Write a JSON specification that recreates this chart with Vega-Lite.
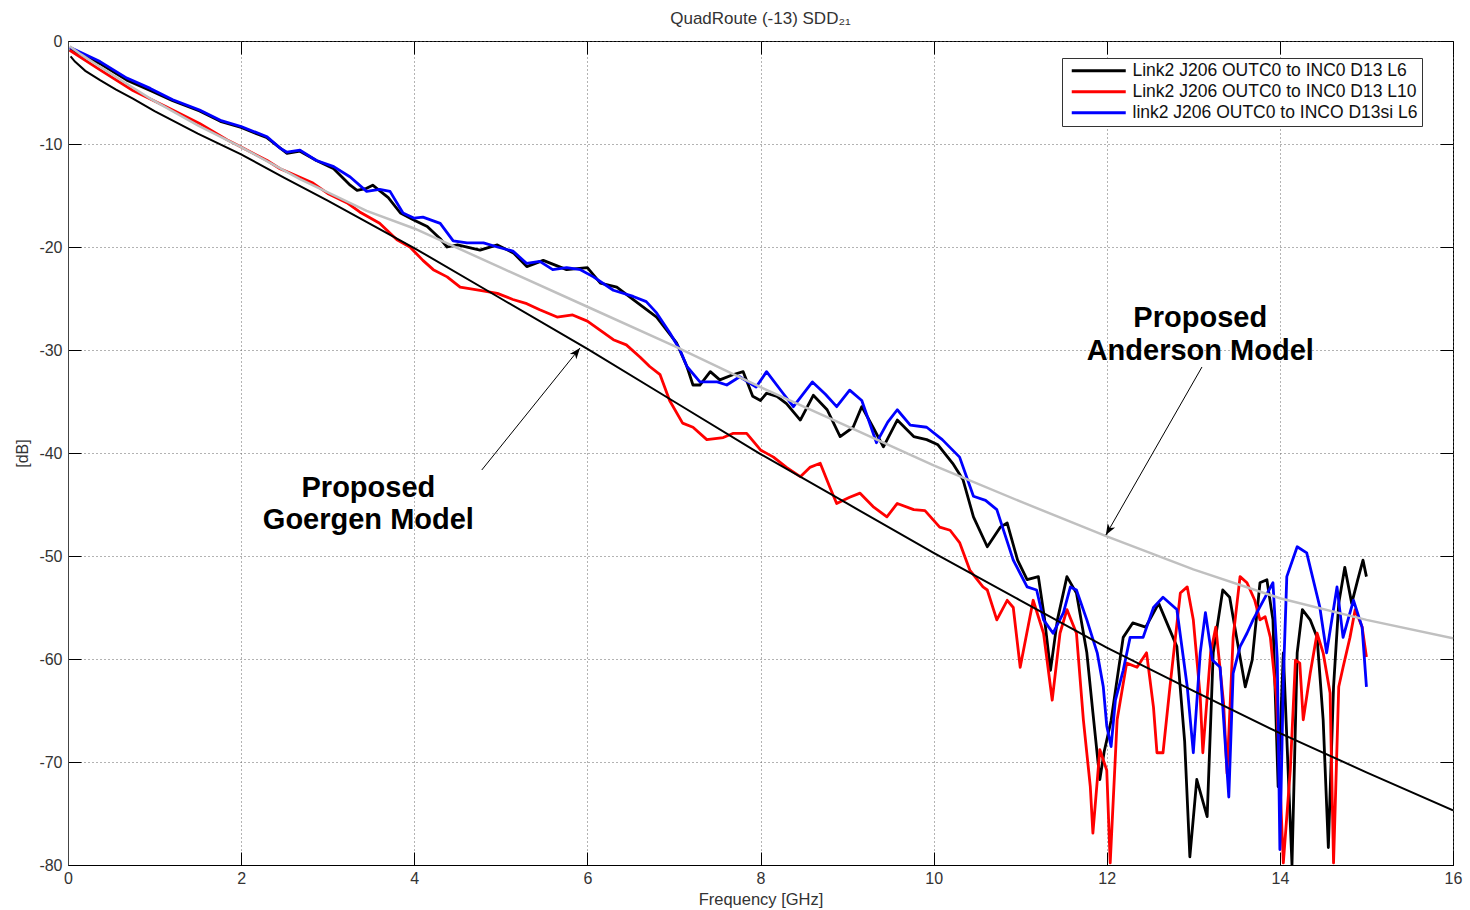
{
  "$schema": "https://vega.github.io/schema/vega-lite/v6.json",
  "width": 1385,
  "height": 824,
  "autosize": {"type": "none"},
  "padding": {"left": 68, "top": 41, "right": 17, "bottom": 45},
  "background": "white",
  "title": {"text": "QuadRoute (-13) SDD₂₁", "fontSize": 17, "font": "Liberation Sans", "fontWeight": "normal", "color": "#333", "baseline": "alphabetic", "offset": 12, "dy": 20},
  "config": {
    "font": "Liberation Sans",
    "view": {"stroke": "#000", "strokeWidth": 1}
  },
  "datasets": {
    "meas": [
      {"s": "Link2 J206 OUTC0 to INC0 D13 L6", "f": 0.02, "db": -0.8},
      {"s": "Link2 J206 OUTC0 to INC0 D13 L6", "f": 0.37, "db": -2.2},
      {"s": "Link2 J206 OUTC0 to INC0 D13 L6", "f": 0.68, "db": -3.8},
      {"s": "Link2 J206 OUTC0 to INC0 D13 L6", "f": 0.95, "db": -4.8},
      {"s": "Link2 J206 OUTC0 to INC0 D13 L6", "f": 1.21, "db": -5.8},
      {"s": "Link2 J206 OUTC0 to INC0 D13 L6", "f": 1.52, "db": -6.8},
      {"s": "Link2 J206 OUTC0 to INC0 D13 L6", "f": 1.76, "db": -7.8},
      {"s": "Link2 J206 OUTC0 to INC0 D13 L6", "f": 2.0, "db": -8.4},
      {"s": "Link2 J206 OUTC0 to INC0 D13 L6", "f": 2.3, "db": -9.4},
      {"s": "Link2 J206 OUTC0 to INC0 D13 L6", "f": 2.53, "db": -10.9},
      {"s": "Link2 J206 OUTC0 to INC0 D13 L6", "f": 2.68, "db": -10.7},
      {"s": "Link2 J206 OUTC0 to INC0 D13 L6", "f": 2.87, "db": -11.6},
      {"s": "Link2 J206 OUTC0 to INC0 D13 L6", "f": 3.07, "db": -12.4},
      {"s": "Link2 J206 OUTC0 to INC0 D13 L6", "f": 3.2, "db": -13.5},
      {"s": "Link2 J206 OUTC0 to INC0 D13 L6", "f": 3.26, "db": -14.0},
      {"s": "Link2 J206 OUTC0 to INC0 D13 L6", "f": 3.34, "db": -14.5},
      {"s": "Link2 J206 OUTC0 to INC0 D13 L6", "f": 3.45, "db": -14.3},
      {"s": "Link2 J206 OUTC0 to INC0 D13 L6", "f": 3.52, "db": -14.0},
      {"s": "Link2 J206 OUTC0 to INC0 D13 L6", "f": 3.7, "db": -15.2},
      {"s": "Link2 J206 OUTC0 to INC0 D13 L6", "f": 3.84, "db": -16.7},
      {"s": "Link2 J206 OUTC0 to INC0 D13 L6", "f": 4.0, "db": -17.4},
      {"s": "Link2 J206 OUTC0 to INC0 D13 L6", "f": 4.15, "db": -18.0},
      {"s": "Link2 J206 OUTC0 to INC0 D13 L6", "f": 4.3, "db": -19.2},
      {"s": "Link2 J206 OUTC0 to INC0 D13 L6", "f": 4.38, "db": -20.0},
      {"s": "Link2 J206 OUTC0 to INC0 D13 L6", "f": 4.5, "db": -19.8},
      {"s": "Link2 J206 OUTC0 to INC0 D13 L6", "f": 4.76, "db": -20.3},
      {"s": "Link2 J206 OUTC0 to INC0 D13 L6", "f": 4.96, "db": -19.8},
      {"s": "Link2 J206 OUTC0 to INC0 D13 L6", "f": 5.15, "db": -20.6},
      {"s": "Link2 J206 OUTC0 to INC0 D13 L6", "f": 5.3, "db": -21.9},
      {"s": "Link2 J206 OUTC0 to INC0 D13 L6", "f": 5.49, "db": -21.3},
      {"s": "Link2 J206 OUTC0 to INC0 D13 L6", "f": 5.76, "db": -22.2},
      {"s": "Link2 J206 OUTC0 to INC0 D13 L6", "f": 6.0, "db": -22.0},
      {"s": "Link2 J206 OUTC0 to INC0 D13 L6", "f": 6.15, "db": -23.5},
      {"s": "Link2 J206 OUTC0 to INC0 D13 L6", "f": 6.34, "db": -23.9},
      {"s": "Link2 J206 OUTC0 to INC0 D13 L6", "f": 6.53, "db": -25.1},
      {"s": "Link2 J206 OUTC0 to INC0 D13 L6", "f": 6.8, "db": -26.8},
      {"s": "Link2 J206 OUTC0 to INC0 D13 L6", "f": 7.03, "db": -29.3},
      {"s": "Link2 J206 OUTC0 to INC0 D13 L6", "f": 7.15, "db": -31.6},
      {"s": "Link2 J206 OUTC0 to INC0 D13 L6", "f": 7.22, "db": -33.4},
      {"s": "Link2 J206 OUTC0 to INC0 D13 L6", "f": 7.3, "db": -33.4},
      {"s": "Link2 J206 OUTC0 to INC0 D13 L6", "f": 7.42, "db": -32.1},
      {"s": "Link2 J206 OUTC0 to INC0 D13 L6", "f": 7.53, "db": -32.9},
      {"s": "Link2 J206 OUTC0 to INC0 D13 L6", "f": 7.68, "db": -32.4},
      {"s": "Link2 J206 OUTC0 to INC0 D13 L6", "f": 7.8, "db": -32.1},
      {"s": "Link2 J206 OUTC0 to INC0 D13 L6", "f": 7.91, "db": -34.5},
      {"s": "Link2 J206 OUTC0 to INC0 D13 L6", "f": 8.0, "db": -34.9},
      {"s": "Link2 J206 OUTC0 to INC0 D13 L6", "f": 8.07, "db": -34.2},
      {"s": "Link2 J206 OUTC0 to INC0 D13 L6", "f": 8.19, "db": -34.5},
      {"s": "Link2 J206 OUTC0 to INC0 D13 L6", "f": 8.3, "db": -35.2},
      {"s": "Link2 J206 OUTC0 to INC0 D13 L6", "f": 8.46, "db": -36.8},
      {"s": "Link2 J206 OUTC0 to INC0 D13 L6", "f": 8.61, "db": -34.4},
      {"s": "Link2 J206 OUTC0 to INC0 D13 L6", "f": 8.77, "db": -35.8},
      {"s": "Link2 J206 OUTC0 to INC0 D13 L6", "f": 8.92, "db": -38.4},
      {"s": "Link2 J206 OUTC0 to INC0 D13 L6", "f": 9.07, "db": -37.5},
      {"s": "Link2 J206 OUTC0 to INC0 D13 L6", "f": 9.17, "db": -35.5},
      {"s": "Link2 J206 OUTC0 to INC0 D13 L6", "f": 9.3, "db": -37.5},
      {"s": "Link2 J206 OUTC0 to INC0 D13 L6", "f": 9.42, "db": -39.4},
      {"s": "Link2 J206 OUTC0 to INC0 D13 L6", "f": 9.58, "db": -36.8},
      {"s": "Link2 J206 OUTC0 to INC0 D13 L6", "f": 9.77, "db": -38.4},
      {"s": "Link2 J206 OUTC0 to INC0 D13 L6", "f": 9.92, "db": -38.7},
      {"s": "Link2 J206 OUTC0 to INC0 D13 L6", "f": 10.05, "db": -39.2},
      {"s": "Link2 J206 OUTC0 to INC0 D13 L6", "f": 10.22, "db": -41.0},
      {"s": "Link2 J206 OUTC0 to INC0 D13 L6", "f": 10.34, "db": -42.6},
      {"s": "Link2 J206 OUTC0 to INC0 D13 L6", "f": 10.46, "db": -46.2},
      {"s": "Link2 J206 OUTC0 to INC0 D13 L6", "f": 10.62, "db": -49.1},
      {"s": "Link2 J206 OUTC0 to INC0 D13 L6", "f": 10.77, "db": -47.2},
      {"s": "Link2 J206 OUTC0 to INC0 D13 L6", "f": 10.85, "db": -46.8},
      {"s": "Link2 J206 OUTC0 to INC0 D13 L6", "f": 10.97, "db": -50.4},
      {"s": "Link2 J206 OUTC0 to INC0 D13 L6", "f": 11.08, "db": -52.3},
      {"s": "Link2 J206 OUTC0 to INC0 D13 L6", "f": 11.21, "db": -52.0},
      {"s": "Link2 J206 OUTC0 to INC0 D13 L6", "f": 11.28, "db": -56.0},
      {"s": "Link2 J206 OUTC0 to INC0 D13 L6", "f": 11.35, "db": -61.1},
      {"s": "Link2 J206 OUTC0 to INC0 D13 L6", "f": 11.43, "db": -56.2},
      {"s": "Link2 J206 OUTC0 to INC0 D13 L6", "f": 11.54, "db": -52.0},
      {"s": "Link2 J206 OUTC0 to INC0 D13 L6", "f": 11.65, "db": -53.6},
      {"s": "Link2 J206 OUTC0 to INC0 D13 L6", "f": 11.77, "db": -59.4},
      {"s": "Link2 J206 OUTC0 to INC0 D13 L6", "f": 11.84, "db": -65.2},
      {"s": "Link2 J206 OUTC0 to INC0 D13 L6", "f": 11.92, "db": -71.7},
      {"s": "Link2 J206 OUTC0 to INC0 D13 L6", "f": 11.97, "db": -69.0},
      {"s": "Link2 J206 OUTC0 to INC0 D13 L6", "f": 12.05, "db": -66.0},
      {"s": "Link2 J206 OUTC0 to INC0 D13 L6", "f": 12.19, "db": -57.9},
      {"s": "Link2 J206 OUTC0 to INC0 D13 L6", "f": 12.3, "db": -56.5},
      {"s": "Link2 J206 OUTC0 to INC0 D13 L6", "f": 12.45, "db": -56.9},
      {"s": "Link2 J206 OUTC0 to INC0 D13 L6", "f": 12.6, "db": -54.6},
      {"s": "Link2 J206 OUTC0 to INC0 D13 L6", "f": 12.81, "db": -58.8},
      {"s": "Link2 J206 OUTC0 to INC0 D13 L6", "f": 12.9, "db": -68.0},
      {"s": "Link2 J206 OUTC0 to INC0 D13 L6", "f": 12.96, "db": -79.2},
      {"s": "Link2 J206 OUTC0 to INC0 D13 L6", "f": 13.04, "db": -71.7},
      {"s": "Link2 J206 OUTC0 to INC0 D13 L6", "f": 13.16, "db": -75.3},
      {"s": "Link2 J206 OUTC0 to INC0 D13 L6", "f": 13.23, "db": -59.4},
      {"s": "Link2 J206 OUTC0 to INC0 D13 L6", "f": 13.34, "db": -53.3},
      {"s": "Link2 J206 OUTC0 to INC0 D13 L6", "f": 13.42, "db": -54.0},
      {"s": "Link2 J206 OUTC0 to INC0 D13 L6", "f": 13.5, "db": -57.9},
      {"s": "Link2 J206 OUTC0 to INC0 D13 L6", "f": 13.6, "db": -62.7},
      {"s": "Link2 J206 OUTC0 to INC0 D13 L6", "f": 13.68, "db": -60.1},
      {"s": "Link2 J206 OUTC0 to INC0 D13 L6", "f": 13.77, "db": -52.6},
      {"s": "Link2 J206 OUTC0 to INC0 D13 L6", "f": 13.85, "db": -52.3},
      {"s": "Link2 J206 OUTC0 to INC0 D13 L6", "f": 13.92, "db": -56.2},
      {"s": "Link2 J206 OUTC0 to INC0 D13 L6", "f": 13.98, "db": -72.4},
      {"s": "Link2 J206 OUTC0 to INC0 D13 L6", "f": 14.04, "db": -59.4},
      {"s": "Link2 J206 OUTC0 to INC0 D13 L6", "f": 14.14, "db": -80.0},
      {"s": "Link2 J206 OUTC0 to INC0 D13 L6", "f": 14.2, "db": -59.4},
      {"s": "Link2 J206 OUTC0 to INC0 D13 L6", "f": 14.26, "db": -55.2},
      {"s": "Link2 J206 OUTC0 to INC0 D13 L6", "f": 14.35, "db": -56.2},
      {"s": "Link2 J206 OUTC0 to INC0 D13 L6", "f": 14.43, "db": -57.9},
      {"s": "Link2 J206 OUTC0 to INC0 D13 L6", "f": 14.5, "db": -65.9},
      {"s": "Link2 J206 OUTC0 to INC0 D13 L6", "f": 14.56, "db": -78.3},
      {"s": "Link2 J206 OUTC0 to INC0 D13 L6", "f": 14.62, "db": -62.7},
      {"s": "Link2 J206 OUTC0 to INC0 D13 L6", "f": 14.68, "db": -54.6},
      {"s": "Link2 J206 OUTC0 to INC0 D13 L6", "f": 14.75, "db": -51.1},
      {"s": "Link2 J206 OUTC0 to INC0 D13 L6", "f": 14.83, "db": -54.6},
      {"s": "Link2 J206 OUTC0 to INC0 D13 L6", "f": 14.9, "db": -52.3},
      {"s": "Link2 J206 OUTC0 to INC0 D13 L6", "f": 14.96, "db": -50.4},
      {"s": "Link2 J206 OUTC0 to INC0 D13 L6", "f": 15.0, "db": -52.0},

      {"s": "Link2 J206 OUTC0 to INC0 D13 L10", "f": 0.02, "db": -0.9},
      {"s": "Link2 J206 OUTC0 to INC0 D13 L10", "f": 0.37, "db": -2.8},
      {"s": "Link2 J206 OUTC0 to INC0 D13 L10", "f": 0.75, "db": -4.8},
      {"s": "Link2 J206 OUTC0 to INC0 D13 L10", "f": 1.14, "db": -6.4},
      {"s": "Link2 J206 OUTC0 to INC0 D13 L10", "f": 1.52, "db": -8.0},
      {"s": "Link2 J206 OUTC0 to INC0 D13 L10", "f": 1.84, "db": -9.6},
      {"s": "Link2 J206 OUTC0 to INC0 D13 L10", "f": 2.0, "db": -10.3},
      {"s": "Link2 J206 OUTC0 to INC0 D13 L10", "f": 2.3, "db": -11.6},
      {"s": "Link2 J206 OUTC0 to INC0 D13 L10", "f": 2.45, "db": -12.4},
      {"s": "Link2 J206 OUTC0 to INC0 D13 L10", "f": 2.56, "db": -12.8},
      {"s": "Link2 J206 OUTC0 to INC0 D13 L10", "f": 2.83, "db": -13.8},
      {"s": "Link2 J206 OUTC0 to INC0 D13 L10", "f": 3.0, "db": -14.8},
      {"s": "Link2 J206 OUTC0 to INC0 D13 L10", "f": 3.22, "db": -15.7},
      {"s": "Link2 J206 OUTC0 to INC0 D13 L10", "f": 3.37, "db": -16.6},
      {"s": "Link2 J206 OUTC0 to INC0 D13 L10", "f": 3.6, "db": -17.7},
      {"s": "Link2 J206 OUTC0 to INC0 D13 L10", "f": 3.8, "db": -19.3},
      {"s": "Link2 J206 OUTC0 to INC0 D13 L10", "f": 3.95, "db": -20.0},
      {"s": "Link2 J206 OUTC0 to INC0 D13 L10", "f": 4.1, "db": -21.3},
      {"s": "Link2 J206 OUTC0 to INC0 D13 L10", "f": 4.22, "db": -22.2},
      {"s": "Link2 J206 OUTC0 to INC0 D13 L10", "f": 4.38, "db": -22.9},
      {"s": "Link2 J206 OUTC0 to INC0 D13 L10", "f": 4.53, "db": -23.9},
      {"s": "Link2 J206 OUTC0 to INC0 D13 L10", "f": 4.76, "db": -24.2},
      {"s": "Link2 J206 OUTC0 to INC0 D13 L10", "f": 4.96, "db": -24.5},
      {"s": "Link2 J206 OUTC0 to INC0 D13 L10", "f": 5.14, "db": -25.1},
      {"s": "Link2 J206 OUTC0 to INC0 D13 L10", "f": 5.3, "db": -25.5},
      {"s": "Link2 J206 OUTC0 to INC0 D13 L10", "f": 5.45, "db": -26.1},
      {"s": "Link2 J206 OUTC0 to INC0 D13 L10", "f": 5.65, "db": -26.8},
      {"s": "Link2 J206 OUTC0 to INC0 D13 L10", "f": 5.83, "db": -26.6},
      {"s": "Link2 J206 OUTC0 to INC0 D13 L10", "f": 6.0, "db": -27.2},
      {"s": "Link2 J206 OUTC0 to INC0 D13 L10", "f": 6.15, "db": -28.1},
      {"s": "Link2 J206 OUTC0 to INC0 D13 L10", "f": 6.3, "db": -29.0},
      {"s": "Link2 J206 OUTC0 to INC0 D13 L10", "f": 6.45, "db": -29.5},
      {"s": "Link2 J206 OUTC0 to INC0 D13 L10", "f": 6.61, "db": -30.7},
      {"s": "Link2 J206 OUTC0 to INC0 D13 L10", "f": 6.72, "db": -31.6},
      {"s": "Link2 J206 OUTC0 to INC0 D13 L10", "f": 6.84, "db": -32.4},
      {"s": "Link2 J206 OUTC0 to INC0 D13 L10", "f": 6.95, "db": -34.9},
      {"s": "Link2 J206 OUTC0 to INC0 D13 L10", "f": 7.1, "db": -37.1},
      {"s": "Link2 J206 OUTC0 to INC0 D13 L10", "f": 7.22, "db": -37.5},
      {"s": "Link2 J206 OUTC0 to INC0 D13 L10", "f": 7.38, "db": -38.7},
      {"s": "Link2 J206 OUTC0 to INC0 D13 L10", "f": 7.57, "db": -38.5},
      {"s": "Link2 J206 OUTC0 to INC0 D13 L10", "f": 7.68, "db": -38.1},
      {"s": "Link2 J206 OUTC0 to INC0 D13 L10", "f": 7.84, "db": -38.1},
      {"s": "Link2 J206 OUTC0 to INC0 D13 L10", "f": 8.0, "db": -39.7},
      {"s": "Link2 J206 OUTC0 to INC0 D13 L10", "f": 8.15, "db": -40.4},
      {"s": "Link2 J206 OUTC0 to INC0 D13 L10", "f": 8.3, "db": -41.4},
      {"s": "Link2 J206 OUTC0 to INC0 D13 L10", "f": 8.46, "db": -42.3},
      {"s": "Link2 J206 OUTC0 to INC0 D13 L10", "f": 8.57, "db": -41.4},
      {"s": "Link2 J206 OUTC0 to INC0 D13 L10", "f": 8.69, "db": -41.0},
      {"s": "Link2 J206 OUTC0 to INC0 D13 L10", "f": 8.8, "db": -43.3},
      {"s": "Link2 J206 OUTC0 to INC0 D13 L10", "f": 8.88, "db": -44.9},
      {"s": "Link2 J206 OUTC0 to INC0 D13 L10", "f": 9.03, "db": -44.3},
      {"s": "Link2 J206 OUTC0 to INC0 D13 L10", "f": 9.15, "db": -43.9},
      {"s": "Link2 J206 OUTC0 to INC0 D13 L10", "f": 9.3, "db": -45.2},
      {"s": "Link2 J206 OUTC0 to INC0 D13 L10", "f": 9.46, "db": -46.2},
      {"s": "Link2 J206 OUTC0 to INC0 D13 L10", "f": 9.58, "db": -44.9},
      {"s": "Link2 J206 OUTC0 to INC0 D13 L10", "f": 9.77, "db": -45.5},
      {"s": "Link2 J206 OUTC0 to INC0 D13 L10", "f": 9.9, "db": -45.6},
      {"s": "Link2 J206 OUTC0 to INC0 D13 L10", "f": 10.07, "db": -47.2},
      {"s": "Link2 J206 OUTC0 to INC0 D13 L10", "f": 10.19, "db": -47.5},
      {"s": "Link2 J206 OUTC0 to INC0 D13 L10", "f": 10.3, "db": -48.7},
      {"s": "Link2 J206 OUTC0 to INC0 D13 L10", "f": 10.42, "db": -51.4},
      {"s": "Link2 J206 OUTC0 to INC0 D13 L10", "f": 10.57, "db": -53.0},
      {"s": "Link2 J206 OUTC0 to INC0 D13 L10", "f": 10.62, "db": -53.3},
      {"s": "Link2 J206 OUTC0 to INC0 D13 L10", "f": 10.73, "db": -56.2},
      {"s": "Link2 J206 OUTC0 to INC0 D13 L10", "f": 10.85, "db": -54.3},
      {"s": "Link2 J206 OUTC0 to INC0 D13 L10", "f": 10.92, "db": -55.0},
      {"s": "Link2 J206 OUTC0 to INC0 D13 L10", "f": 11.0, "db": -60.8},
      {"s": "Link2 J206 OUTC0 to INC0 D13 L10", "f": 11.15, "db": -54.3},
      {"s": "Link2 J206 OUTC0 to INC0 D13 L10", "f": 11.27, "db": -57.5},
      {"s": "Link2 J206 OUTC0 to INC0 D13 L10", "f": 11.37, "db": -64.0},
      {"s": "Link2 J206 OUTC0 to INC0 D13 L10", "f": 11.46, "db": -57.5},
      {"s": "Link2 J206 OUTC0 to INC0 D13 L10", "f": 11.54, "db": -55.2},
      {"s": "Link2 J206 OUTC0 to INC0 D13 L10", "f": 11.65, "db": -57.5},
      {"s": "Link2 J206 OUTC0 to INC0 D13 L10", "f": 11.73, "db": -65.9},
      {"s": "Link2 J206 OUTC0 to INC0 D13 L10", "f": 11.81, "db": -72.4},
      {"s": "Link2 J206 OUTC0 to INC0 D13 L10", "f": 11.84, "db": -76.9},
      {"s": "Link2 J206 OUTC0 to INC0 D13 L10", "f": 11.92, "db": -68.8},
      {"s": "Link2 J206 OUTC0 to INC0 D13 L10", "f": 12.0, "db": -70.8},
      {"s": "Link2 J206 OUTC0 to INC0 D13 L10", "f": 12.04, "db": -79.8},
      {"s": "Link2 J206 OUTC0 to INC0 D13 L10", "f": 12.12, "db": -65.9},
      {"s": "Link2 J206 OUTC0 to INC0 D13 L10", "f": 12.23, "db": -60.4},
      {"s": "Link2 J206 OUTC0 to INC0 D13 L10", "f": 12.35, "db": -60.8},
      {"s": "Link2 J206 OUTC0 to INC0 D13 L10", "f": 12.46, "db": -59.4},
      {"s": "Link2 J206 OUTC0 to INC0 D13 L10", "f": 12.54, "db": -64.7},
      {"s": "Link2 J206 OUTC0 to INC0 D13 L10", "f": 12.58, "db": -69.1},
      {"s": "Link2 J206 OUTC0 to INC0 D13 L10", "f": 12.65, "db": -69.1},
      {"s": "Link2 J206 OUTC0 to INC0 D13 L10", "f": 12.73, "db": -62.7},
      {"s": "Link2 J206 OUTC0 to INC0 D13 L10", "f": 12.85, "db": -53.6},
      {"s": "Link2 J206 OUTC0 to INC0 D13 L10", "f": 12.93, "db": -53.0},
      {"s": "Link2 J206 OUTC0 to INC0 D13 L10", "f": 13.0, "db": -56.2},
      {"s": "Link2 J206 OUTC0 to INC0 D13 L10", "f": 13.08, "db": -63.7},
      {"s": "Link2 J206 OUTC0 to INC0 D13 L10", "f": 13.11, "db": -69.1},
      {"s": "Link2 J206 OUTC0 to INC0 D13 L10", "f": 13.2, "db": -59.4},
      {"s": "Link2 J206 OUTC0 to INC0 D13 L10", "f": 13.26, "db": -56.9},
      {"s": "Link2 J206 OUTC0 to INC0 D13 L10", "f": 13.35, "db": -64.3},
      {"s": "Link2 J206 OUTC0 to INC0 D13 L10", "f": 13.39, "db": -71.1},
      {"s": "Link2 J206 OUTC0 to INC0 D13 L10", "f": 13.46, "db": -57.9},
      {"s": "Link2 J206 OUTC0 to INC0 D13 L10", "f": 13.54, "db": -52.0},
      {"s": "Link2 J206 OUTC0 to INC0 D13 L10", "f": 13.62, "db": -52.6},
      {"s": "Link2 J206 OUTC0 to INC0 D13 L10", "f": 13.71, "db": -54.3},
      {"s": "Link2 J206 OUTC0 to INC0 D13 L10", "f": 13.77, "db": -56.2},
      {"s": "Link2 J206 OUTC0 to INC0 D13 L10", "f": 13.83, "db": -55.9},
      {"s": "Link2 J206 OUTC0 to INC0 D13 L10", "f": 13.89, "db": -57.9},
      {"s": "Link2 J206 OUTC0 to INC0 D13 L10", "f": 13.96, "db": -63.7},
      {"s": "Link2 J206 OUTC0 to INC0 D13 L10", "f": 14.04, "db": -79.8},
      {"s": "Link2 J206 OUTC0 to INC0 D13 L10", "f": 14.12, "db": -70.8},
      {"s": "Link2 J206 OUTC0 to INC0 D13 L10", "f": 14.18, "db": -60.1},
      {"s": "Link2 J206 OUTC0 to INC0 D13 L10", "f": 14.23, "db": -60.4},
      {"s": "Link2 J206 OUTC0 to INC0 D13 L10", "f": 14.27, "db": -65.9},
      {"s": "Link2 J206 OUTC0 to INC0 D13 L10", "f": 14.35, "db": -61.4},
      {"s": "Link2 J206 OUTC0 to INC0 D13 L10", "f": 14.43, "db": -57.5},
      {"s": "Link2 J206 OUTC0 to INC0 D13 L10", "f": 14.5, "db": -59.4},
      {"s": "Link2 J206 OUTC0 to INC0 D13 L10", "f": 14.58, "db": -63.3},
      {"s": "Link2 J206 OUTC0 to INC0 D13 L10", "f": 14.62, "db": -79.8},
      {"s": "Link2 J206 OUTC0 to INC0 D13 L10", "f": 14.68, "db": -62.7},
      {"s": "Link2 J206 OUTC0 to INC0 D13 L10", "f": 14.73, "db": -60.8},
      {"s": "Link2 J206 OUTC0 to INC0 D13 L10", "f": 14.81, "db": -57.9},
      {"s": "Link2 J206 OUTC0 to INC0 D13 L10", "f": 14.87, "db": -55.2},
      {"s": "Link2 J206 OUTC0 to INC0 D13 L10", "f": 14.95, "db": -56.9},
      {"s": "Link2 J206 OUTC0 to INC0 D13 L10", "f": 15.0, "db": -59.8},

      {"s": "link2 J206 OUTC0 to INCO D13si L6", "f": 0.02, "db": -0.6},
      {"s": "link2 J206 OUTC0 to INCO D13si L6", "f": 0.37, "db": -2.0},
      {"s": "link2 J206 OUTC0 to INCO D13si L6", "f": 0.68, "db": -3.6},
      {"s": "link2 J206 OUTC0 to INCO D13si L6", "f": 0.95, "db": -4.6},
      {"s": "link2 J206 OUTC0 to INCO D13si L6", "f": 1.21, "db": -5.7},
      {"s": "link2 J206 OUTC0 to INCO D13si L6", "f": 1.52, "db": -6.7},
      {"s": "link2 J206 OUTC0 to INCO D13si L6", "f": 1.76, "db": -7.7},
      {"s": "link2 J206 OUTC0 to INCO D13si L6", "f": 2.0, "db": -8.3},
      {"s": "link2 J206 OUTC0 to INCO D13si L6", "f": 2.3, "db": -9.3},
      {"s": "link2 J206 OUTC0 to INCO D13si L6", "f": 2.45, "db": -10.4},
      {"s": "link2 J206 OUTC0 to INCO D13si L6", "f": 2.53, "db": -10.8},
      {"s": "link2 J206 OUTC0 to INCO D13si L6", "f": 2.68, "db": -10.6},
      {"s": "link2 J206 OUTC0 to INCO D13si L6", "f": 2.87, "db": -11.6},
      {"s": "link2 J206 OUTC0 to INCO D13si L6", "f": 3.07, "db": -12.2},
      {"s": "link2 J206 OUTC0 to INCO D13si L6", "f": 3.26, "db": -13.2},
      {"s": "link2 J206 OUTC0 to INCO D13si L6", "f": 3.45, "db": -14.6},
      {"s": "link2 J206 OUTC0 to INCO D13si L6", "f": 3.6, "db": -14.4},
      {"s": "link2 J206 OUTC0 to INCO D13si L6", "f": 3.72, "db": -14.6},
      {"s": "link2 J206 OUTC0 to INCO D13si L6", "f": 3.87, "db": -16.7},
      {"s": "link2 J206 OUTC0 to INCO D13si L6", "f": 4.0, "db": -17.2},
      {"s": "link2 J206 OUTC0 to INCO D13si L6", "f": 4.1, "db": -17.1},
      {"s": "link2 J206 OUTC0 to INCO D13si L6", "f": 4.3, "db": -17.7},
      {"s": "link2 J206 OUTC0 to INCO D13si L6", "f": 4.45, "db": -19.4},
      {"s": "link2 J206 OUTC0 to INCO D13si L6", "f": 4.61, "db": -19.6},
      {"s": "link2 J206 OUTC0 to INCO D13si L6", "f": 4.8, "db": -19.6},
      {"s": "link2 J206 OUTC0 to INCO D13si L6", "f": 4.96, "db": -20.0},
      {"s": "link2 J206 OUTC0 to INCO D13si L6", "f": 5.14, "db": -20.4},
      {"s": "link2 J206 OUTC0 to INCO D13si L6", "f": 5.3, "db": -21.6},
      {"s": "link2 J206 OUTC0 to INCO D13si L6", "f": 5.45, "db": -21.4},
      {"s": "link2 J206 OUTC0 to INCO D13si L6", "f": 5.6, "db": -22.2},
      {"s": "link2 J206 OUTC0 to INCO D13si L6", "f": 5.76, "db": -22.0},
      {"s": "link2 J206 OUTC0 to INCO D13si L6", "f": 5.92, "db": -22.2},
      {"s": "link2 J206 OUTC0 to INCO D13si L6", "f": 6.07, "db": -22.9},
      {"s": "link2 J206 OUTC0 to INCO D13si L6", "f": 6.3, "db": -24.2},
      {"s": "link2 J206 OUTC0 to INCO D13si L6", "f": 6.53, "db": -24.8},
      {"s": "link2 J206 OUTC0 to INCO D13si L6", "f": 6.68, "db": -25.3},
      {"s": "link2 J206 OUTC0 to INCO D13si L6", "f": 6.8, "db": -26.4},
      {"s": "link2 J206 OUTC0 to INCO D13si L6", "f": 6.95, "db": -28.3},
      {"s": "link2 J206 OUTC0 to INCO D13si L6", "f": 7.07, "db": -30.0},
      {"s": "link2 J206 OUTC0 to INCO D13si L6", "f": 7.15, "db": -31.6},
      {"s": "link2 J206 OUTC0 to INCO D13si L6", "f": 7.3, "db": -33.1},
      {"s": "link2 J206 OUTC0 to INCO D13si L6", "f": 7.5, "db": -33.1},
      {"s": "link2 J206 OUTC0 to INCO D13si L6", "f": 7.61, "db": -33.4},
      {"s": "link2 J206 OUTC0 to INCO D13si L6", "f": 7.76, "db": -32.6},
      {"s": "link2 J206 OUTC0 to INCO D13si L6", "f": 7.95, "db": -33.6},
      {"s": "link2 J206 OUTC0 to INCO D13si L6", "f": 8.07, "db": -32.1},
      {"s": "link2 J206 OUTC0 to INCO D13si L6", "f": 8.26, "db": -34.2},
      {"s": "link2 J206 OUTC0 to INCO D13si L6", "f": 8.38, "db": -35.5},
      {"s": "link2 J206 OUTC0 to INCO D13si L6", "f": 8.6, "db": -33.1},
      {"s": "link2 J206 OUTC0 to INCO D13si L6", "f": 8.75, "db": -34.3},
      {"s": "link2 J206 OUTC0 to INCO D13si L6", "f": 8.88, "db": -35.5},
      {"s": "link2 J206 OUTC0 to INCO D13si L6", "f": 9.03, "db": -33.9},
      {"s": "link2 J206 OUTC0 to INCO D13si L6", "f": 9.17, "db": -34.9},
      {"s": "link2 J206 OUTC0 to INCO D13si L6", "f": 9.34, "db": -39.0},
      {"s": "link2 J206 OUTC0 to INCO D13si L6", "f": 9.47, "db": -37.0},
      {"s": "link2 J206 OUTC0 to INCO D13si L6", "f": 9.58, "db": -35.8},
      {"s": "link2 J206 OUTC0 to INCO D13si L6", "f": 9.73, "db": -37.3},
      {"s": "link2 J206 OUTC0 to INCO D13si L6", "f": 9.92, "db": -37.5},
      {"s": "link2 J206 OUTC0 to INCO D13si L6", "f": 10.1, "db": -38.7},
      {"s": "link2 J206 OUTC0 to INCO D13si L6", "f": 10.3, "db": -40.4},
      {"s": "link2 J206 OUTC0 to INCO D13si L6", "f": 10.46, "db": -44.2},
      {"s": "link2 J206 OUTC0 to INCO D13si L6", "f": 10.6, "db": -44.6},
      {"s": "link2 J206 OUTC0 to INCO D13si L6", "f": 10.73, "db": -45.5},
      {"s": "link2 J206 OUTC0 to INCO D13si L6", "f": 10.92, "db": -50.4},
      {"s": "link2 J206 OUTC0 to INCO D13si L6", "f": 11.08, "db": -53.0},
      {"s": "link2 J206 OUTC0 to INCO D13si L6", "f": 11.19, "db": -53.3},
      {"s": "link2 J206 OUTC0 to INCO D13si L6", "f": 11.27, "db": -56.2},
      {"s": "link2 J206 OUTC0 to INCO D13si L6", "f": 11.38, "db": -57.5},
      {"s": "link2 J206 OUTC0 to INCO D13si L6", "f": 11.5, "db": -55.5},
      {"s": "link2 J206 OUTC0 to INCO D13si L6", "f": 11.58, "db": -53.0},
      {"s": "link2 J206 OUTC0 to INCO D13si L6", "f": 11.65, "db": -53.3},
      {"s": "link2 J206 OUTC0 to INCO D13si L6", "f": 11.77, "db": -56.2},
      {"s": "link2 J206 OUTC0 to INCO D13si L6", "f": 11.89, "db": -59.4},
      {"s": "link2 J206 OUTC0 to INCO D13si L6", "f": 11.96, "db": -62.7},
      {"s": "link2 J206 OUTC0 to INCO D13si L6", "f": 12.0, "db": -66.5},
      {"s": "link2 J206 OUTC0 to INCO D13si L6", "f": 12.05, "db": -68.5},
      {"s": "link2 J206 OUTC0 to INCO D13si L6", "f": 12.1, "db": -64.0},
      {"s": "link2 J206 OUTC0 to INCO D13si L6", "f": 12.19, "db": -61.1},
      {"s": "link2 J206 OUTC0 to INCO D13si L6", "f": 12.27, "db": -57.9},
      {"s": "link2 J206 OUTC0 to INCO D13si L6", "f": 12.42, "db": -57.9},
      {"s": "link2 J206 OUTC0 to INCO D13si L6", "f": 12.54, "db": -55.0},
      {"s": "link2 J206 OUTC0 to INCO D13si L6", "f": 12.65, "db": -54.0},
      {"s": "link2 J206 OUTC0 to INCO D13si L6", "f": 12.81, "db": -55.2},
      {"s": "link2 J206 OUTC0 to INCO D13si L6", "f": 12.93, "db": -62.7},
      {"s": "link2 J206 OUTC0 to INCO D13si L6", "f": 13.0, "db": -69.1},
      {"s": "link2 J206 OUTC0 to INCO D13si L6", "f": 13.08, "db": -59.4},
      {"s": "link2 J206 OUTC0 to INCO D13si L6", "f": 13.14, "db": -55.5},
      {"s": "link2 J206 OUTC0 to INCO D13si L6", "f": 13.22, "db": -60.1},
      {"s": "link2 J206 OUTC0 to INCO D13si L6", "f": 13.31, "db": -60.8},
      {"s": "link2 J206 OUTC0 to INCO D13si L6", "f": 13.41, "db": -73.4},
      {"s": "link2 J206 OUTC0 to INCO D13si L6", "f": 13.46, "db": -61.4},
      {"s": "link2 J206 OUTC0 to INCO D13si L6", "f": 13.54, "db": -58.8},
      {"s": "link2 J206 OUTC0 to INCO D13si L6", "f": 13.62, "db": -57.5},
      {"s": "link2 J206 OUTC0 to INCO D13si L6", "f": 13.69, "db": -56.2},
      {"s": "link2 J206 OUTC0 to INCO D13si L6", "f": 13.81, "db": -54.3},
      {"s": "link2 J206 OUTC0 to INCO D13si L6", "f": 13.92, "db": -52.6},
      {"s": "link2 J206 OUTC0 to INCO D13si L6", "f": 13.97, "db": -60.0},
      {"s": "link2 J206 OUTC0 to INCO D13si L6", "f": 14.0, "db": -78.5},
      {"s": "link2 J206 OUTC0 to INCO D13si L6", "f": 14.04, "db": -62.0},
      {"s": "link2 J206 OUTC0 to INCO D13si L6", "f": 14.08, "db": -52.0},
      {"s": "link2 J206 OUTC0 to INCO D13si L6", "f": 14.2, "db": -49.1},
      {"s": "link2 J206 OUTC0 to INCO D13si L6", "f": 14.31, "db": -49.7},
      {"s": "link2 J206 OUTC0 to INCO D13si L6", "f": 14.46, "db": -54.9},
      {"s": "link2 J206 OUTC0 to INCO D13si L6", "f": 14.54, "db": -59.4},
      {"s": "link2 J206 OUTC0 to INCO D13si L6", "f": 14.66, "db": -53.0},
      {"s": "link2 J206 OUTC0 to INCO D13si L6", "f": 14.73, "db": -57.9},
      {"s": "link2 J206 OUTC0 to INCO D13si L6", "f": 14.85, "db": -54.3},
      {"s": "link2 J206 OUTC0 to INCO D13si L6", "f": 14.95, "db": -56.9},
      {"s": "link2 J206 OUTC0 to INCO D13si L6", "f": 15.0, "db": -62.7}
    ],
    "goergen": [
      {"f": 0.03, "db": -1.5}, {"f": 0.08, "db": -2.0}, {"f": 0.2, "db": -2.9}, {"f": 0.37, "db": -3.8},
      {"f": 0.55, "db": -4.7}, {"f": 0.75, "db": -5.6}, {"f": 1.0, "db": -6.8}, {"f": 1.5, "db": -9.0},
      {"f": 2.0, "db": -11.0}, {"f": 2.5, "db": -13.3}, {"f": 3.0, "db": -15.5}, {"f": 3.5, "db": -17.8},
      {"f": 4.0, "db": -20.1}, {"f": 5.0, "db": -25.0}, {"f": 6.0, "db": -29.9}, {"f": 7.0, "db": -35.0},
      {"f": 8.0, "db": -40.1}, {"f": 9.0, "db": -44.9}, {"f": 10.0, "db": -49.7}, {"f": 11.0, "db": -54.3},
      {"f": 12.0, "db": -58.9}, {"f": 13.0, "db": -63.1}, {"f": 14.0, "db": -67.2}, {"f": 15.0, "db": -71.0},
      {"f": 16.0, "db": -74.7}
    ],
    "anderson": [
      {"f": 0.02, "db": -0.5}, {"f": 0.15, "db": -1.3}, {"f": 0.37, "db": -2.5}, {"f": 0.65, "db": -4.0},
      {"f": 0.95, "db": -5.6}, {"f": 1.5, "db": -8.2}, {"f": 2.0, "db": -10.3}, {"f": 2.68, "db": -13.4},
      {"f": 3.45, "db": -16.5}, {"f": 4.0, "db": -18.2}, {"f": 5.0, "db": -22.0}, {"f": 6.0, "db": -25.8},
      {"f": 7.0, "db": -29.6}, {"f": 8.0, "db": -33.6}, {"f": 9.0, "db": -37.4}, {"f": 10.0, "db": -41.2},
      {"f": 11.0, "db": -44.7}, {"f": 12.0, "db": -48.1}, {"f": 13.0, "db": -51.3}, {"f": 14.0, "db": -54.1},
      {"f": 15.0, "db": -56.2}, {"f": 16.0, "db": -58.0}
    ],
    "notes": [
      {"f": 13.08, "db": -27.8, "t": "Proposed"},
      {"f": 13.08, "db": -31.0, "t": "Anderson Model"},
      {"f": 3.47, "db": -44.3, "t": "Proposed"},
      {"f": 3.47, "db": -47.4, "t": "Goergen Model"}
    ],
    "arrows": [
      {"f": 4.78, "db": -41.65, "f2": 5.915, "db2": -29.8, "ang": 38.8},
      {"f": 13.1, "db": -31.65, "f2": 11.99, "db2": -47.96, "ang": 209.7}
    ]
  },
  "resolve": {"axis": {"x": "independent", "y": "independent"}},
  "layer": [
    {
      "data": {"name": "meas"},
      "mark": {"type": "line", "strokeWidth": 2.8, "clip": true, "strokeJoin": "round"},
      "encoding": {
        "x": {"field": "f", "type": "quantitative", "scale": {"domain": [0, 16], "nice": false, "zero": false},
          "axis": {"orient": "bottom", "values": [0, 2, 4, 6, 8, 10, 12, 14, 16], "title": "Frequency [GHz]",
            "grid": true, "gridDash": [1, 3], "gridColor": "#666", "gridWidth": 1,
            "tickSize": -13, "tickColor": "#000", "domainColor": "#000",
            "labelFontSize": 16, "labelColor": "#333", "labelPadding": 18, "labelFlush": false, "labelOverlap": false,
            "labelExpr": "'' + datum.value",
            "titleFontSize": 16.5, "titleFontWeight": "normal", "titleColor": "#333", "titlePadding": 5}},
        "y": {"field": "db", "type": "quantitative", "scale": {"domain": [-80, 0], "nice": false, "zero": false},
          "axis": {"orient": "left", "values": [-80, -70, -60, -50, -40, -30, -20, -10, 0], "title": "[dB]",
            "grid": true, "gridDash": [1, 3], "gridColor": "#666", "gridWidth": 1,
            "tickSize": -13, "tickColor": "#000", "domainColor": "#444",
            "labelFontSize": 16, "labelColor": "#333", "labelPadding": 19, "labelFlush": false, "labelOverlap": false,
            "labelExpr": "'' + datum.value",
            "titleFontSize": 16, "titleFontWeight": "normal", "titleColor": "#333", "titlePadding": 8}},
        "color": {"field": "s", "type": "nominal",
          "scale": {"domain": ["Link2 J206 OUTC0 to INC0 D13 L6", "Link2 J206 OUTC0 to INC0 D13 L10", "link2 J206 OUTC0 to INCO D13si L6"],
                    "range": ["#000000", "#ff0000", "#0000ff"]},
          "legend": {"orient": "none", "legendX": 994, "legendY": 17, "title": null,
            "symbolType": "M-5.4,0L5.4,0", "symbolSize": 100, "symbolStrokeWidth": 2.8, "symbolOffset": 24,
            "labelFontSize": 17.5, "labelColor": "#111", "labelLimit": 0, "labelOffset": 25,
            "strokeColor": "#333", "fillColor": "#ffffff", "padding": 4, "rowPadding": 2}}
      }
    },
    {
      "data": {"name": "anderson"},
      "mark": {"type": "line", "color": "#c0c0c0", "strokeWidth": 2.5, "clip": true},
      "encoding": {
        "x": {"field": "f", "type": "quantitative", "axis": null},
        "y": {"field": "db", "type": "quantitative", "axis": null}
      }
    },
    {
      "data": {"name": "goergen"},
      "mark": {"type": "line", "color": "#000000", "strokeWidth": 2, "clip": true},
      "encoding": {
        "x": {"field": "f", "type": "quantitative",
          "axis": {"orient": "top", "values": [0, 2, 4, 6, 8, 10, 12, 14, 16], "labels": false, "title": null, "grid": false, "domain": false, "tickSize": -13, "tickColor": "#000"}},
        "y": {"field": "db", "type": "quantitative",
          "axis": {"orient": "right", "values": [-80, -70, -60, -50, -40, -30, -20, -10, 0], "labels": false, "title": null, "grid": false, "domain": false, "tickSize": -13, "tickColor": "#000"}}
      }
    },
    {
      "data": {"name": "arrows"},
      "mark": {"type": "rule", "color": "#000000", "strokeWidth": 1},
      "encoding": {
        "x": {"field": "f", "type": "quantitative", "axis": null},
        "y": {"field": "db", "type": "quantitative", "axis": null},
        "x2": {"field": "f2"},
        "y2": {"field": "db2"}
      }
    },
    {
      "data": {"name": "arrows"},
      "mark": {"type": "point", "shape": "M0,0L-0.38,1L0,0.72L0.38,1Z", "filled": true, "color": "#000000", "opacity": 1, "size": 500},
      "encoding": {
        "x": {"field": "f2", "type": "quantitative", "axis": null},
        "y": {"field": "db2", "type": "quantitative", "axis": null},
        "angle": {"field": "ang", "type": "quantitative", "scale": null}
      }
    },
    {
      "data": {"name": "notes"},
      "mark": {"type": "text", "fontSize": 29, "fontWeight": "bold", "font": "Liberation Sans", "align": "center", "baseline": "alphabetic", "color": "#000000"},
      "encoding": {
        "x": {"field": "f", "type": "quantitative", "axis": null},
        "y": {"field": "db", "type": "quantitative", "axis": null},
        "text": {"field": "t"}
      }
    }
  ]
}
